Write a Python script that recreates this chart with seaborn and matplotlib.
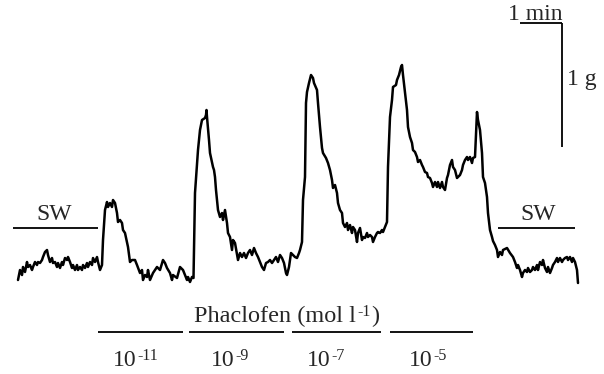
import matplotlib
matplotlib.use("Agg")
import matplotlib.pyplot as plt
import seaborn as sns
import pandas as pd

# Trace, as (time, tension) pairs in image units (tension grows downward)
baseline_pre = [(18, 280), (20, 270), (22, 275), (23, 267), (25, 272), (27, 262), (28, 267), (30, 265), (32, 270),
                (33, 267), (35, 262), (37, 265), (38, 262), (40, 263), (42, 260), (43, 257), (45, 252), (47, 250),
                (48, 255), (50, 262), (52, 258), (53, 263), (55, 262), (57, 267), (58, 263), (60, 268), (62, 262),
                (63, 265), (65, 258), (67, 260), (68, 257), (70, 262), (72, 268), (73, 265), (75, 270), (77, 265),
                (78, 270), (80, 267), (82, 270), (83, 265), (85, 268), (87, 263), (88, 267), (90, 262), (92, 265),
                (93, 258), (95, 262), (97, 257), (98, 262), (100, 270), (102, 265)]
resp_e11 = [(103, 240), (105, 210), (107, 202), (108, 207), (110, 203), (112, 207), (113, 200), (115, 203),
            (117, 213), (118, 222), (120, 220), (122, 223), (123, 230), (125, 233), (127, 242), (128, 247),
            (130, 262), (132, 260), (135, 260), (137, 265), (140, 273), (142, 270), (143, 280), (145, 275),
            (147, 277), (148, 270), (150, 280), (153, 273), (157, 267), (160, 270), (163, 260), (165, 263),
            (167, 268), (170, 273), (172, 280), (173, 275), (177, 278), (180, 267), (183, 270), (187, 280),
            (188, 277), (190, 282), (192, 277), (193.5, 278)]
resp_e9 = [(195, 193), (198, 150), (200, 130), (202, 120), (205, 118), (206, 115), (206.5, 110), (207, 117),
           (209, 140), (210, 153), (212, 162), (213, 167), (214, 170), (215, 177), (216, 190), (218, 210),
           (220, 217), (222, 213), (223, 220), (225, 210), (227, 223), (228, 233), (230, 237), (232, 250),
           (233, 240), (235, 243), (238, 260), (240, 253), (242, 257), (244, 253), (246, 258), (248, 253),
           (250, 250), (252, 255), (254, 248), (256, 253), (258, 257), (260, 262), (262, 267), (264, 270),
           (266, 263), (268, 262), (270, 260), (272, 263), (274, 260), (276, 257), (278, 262), (280, 255),
           (282, 258), (284, 263), (286, 273), (287, 275), (289, 267), (291, 253), (293, 255), (295, 257),
           (297, 258), (299, 253), (300, 250), (302, 242)]
resp_e7 = [(303, 200), (305, 177), (306, 103), (307, 92), (309, 83), (311, 75), (313, 78), (314, 83), (317, 90),
           (318, 103), (320, 127), (322, 148), (323, 153), (326, 158), (328, 163), (330, 170), (332, 180),
           (333, 188), (335, 185), (337, 193), (338, 203), (340, 210), (342, 213), (343, 223), (345, 227),
           (347, 223), (348, 230), (350, 225), (352, 233), (353, 227), (355, 230), (357, 242), (358, 233),
           (360, 228), (362, 240), (363, 237), (365, 238), (367, 233), (368, 237), (370, 235), (372, 237),
           (373, 242), (375, 237), (377, 233), (378, 232), (380, 233), (382, 230), (383, 232), (385, 227),
           (387, 222)]
resp_e5 = [(388, 167), (390, 117), (392, 100), (393, 87), (396, 85), (397, 80), (399, 75), (401, 67), (402, 65),
           (403, 75), (405, 93), (407, 110), (408, 127), (410, 137), (412, 143), (413, 150), (415, 152),
           (417, 157), (418, 162), (420, 160), (422, 165), (423, 167), (425, 172), (427, 173), (428, 177),
           (430, 178), (432, 183), (433, 187), (435, 182), (437, 187), (438, 182), (440, 188), (442, 182),
           (443, 187), (445, 190), (447, 178), (448, 175), (450, 165), (452, 160), (453, 167), (455, 170),
           (457, 178), (458, 177), (460, 175), (462, 170), (463, 165), (465, 160), (467, 157), (468, 160),
           (470, 157), (472, 163), (473, 158), (475, 157), (477, 112), (478, 120), (480, 130), (482, 153),
           (483, 177), (485, 183), (487, 197), (488, 213), (490, 230), (492, 237), (493, 241), (495, 245),
           (497, 250)]
washout = [(498, 257), (500, 252), (502, 255), (503, 250), (507, 248), (510, 253), (513, 257), (515, 262),
           (517, 268), (518, 265), (520, 270), (522, 277), (523, 273), (525, 270), (527, 272), (528, 268),
           (530, 272), (532, 270), (533, 267), (535, 270), (537, 265), (538, 270), (540, 262), (542, 265),
           (543, 260), (545, 268), (547, 272), (548, 267), (550, 273), (552, 268), (553, 265), (555, 262),
           (557, 258), (558, 262), (560, 258), (562, 262), (563, 260), (565, 258), (567, 257), (568, 260),
           (570, 257), (572, 262), (573, 258), (575, 262), (577, 270), (578, 283)]

# Concentration labels (base and exponent) and bars
conc_base = ["10", "10", "10", "10"]
conc_exp = ["-11", "-9", "-7", "-5"]
conc_start = [98, 189, 292, 390]
conc_end = [183, 284, 381, 473]
sw_start = [13, 498]
sw_end = [98, 575]

trace = baseline_pre + resp_e11 + resp_e9 + resp_e7 + resp_e5 + washout
df = pd.DataFrame(trace, columns=["time", "tension"])

sns.set_style("white")
plt.rcParams["font.family"] = ["Liberation Serif", "DejaVu Serif"]

fig = plt.figure(figsize=(6.04, 3.74), dpi=100)
ax = fig.add_axes([0, 0, 1, 1])
sns.lineplot(data=df, x="time", y="tension", ax=ax, color="black", linewidth=1.8,
             estimator=None, sort=False)
ax.set_xlim(0, 604)
ax.set_ylim(374, 0)
ax.axis("off")

fs = 17
fs_sup = 11.5
bar_lw = 1.3

# SW markers
sw_text_x = [54, 538.5]
for s, e, tx in zip(sw_start, sw_end, sw_text_x):
    ax.plot([s, e], [227.5, 227.5], color="black", lw=bar_lw, solid_capstyle="butt")
    ax.text(tx, 219.5, "SW", ha="center", va="baseline", fontsize=fs)

# Scale bars
ax.plot([520, 562], [23, 23], color="black", lw=bar_lw, solid_capstyle="butt")
ax.plot([562, 562], [23, 147], color="black", lw=bar_lw, solid_capstyle="butt")
ax.text(508, 20, "1 min", ha="left", va="baseline", fontsize=fs)
ax.text(567, 85, "1 g", ha="left", va="baseline", fontsize=fs)

# Concentration bars and labels
label_split = [137, 235, 331, 433]
for s, e, b, ex, xs in zip(conc_start, conc_end, conc_base, conc_exp, label_split):
    ax.plot([s, e], [332, 332], color="black", lw=bar_lw, solid_capstyle="butt")
    ax.text(xs, 366, b, ha="right", va="baseline", fontsize=fs)
    ax.text(xs + 0.5, 359.5, ex, ha="left", va="baseline", fontsize=fs_sup)

ax.text(356, 322, "Phaclofen (mol l", ha="right", va="baseline", fontsize=17.5)
ax.text(357.5, 315.5, "-1", ha="left", va="baseline", fontsize=fs_sup)
ax.text(371.5, 322, ")", ha="left", va="baseline", fontsize=17.5)

fig.savefig("out.png", dpi=100)
